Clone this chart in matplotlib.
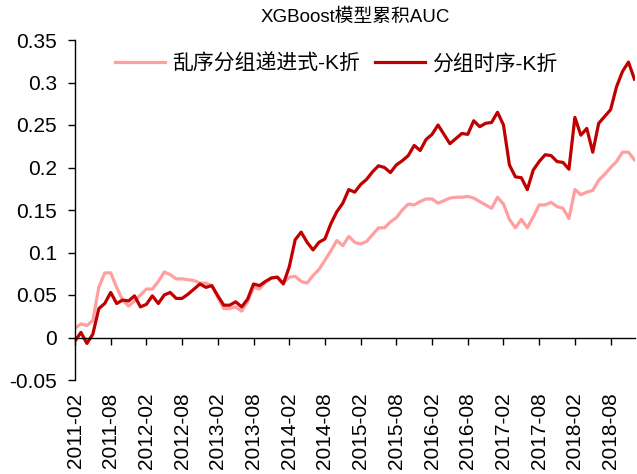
import matplotlib
matplotlib.use("Agg")
import matplotlib.pyplot as plt
import numpy as np
import pandas as pd

plt.rcParams["font.family"] = ["Liberation Sans", "Noto Sans CJK SC"]

# monthly, 2011-02 .. 2018-12
months = pd.period_range("2011-02", "2018-12", freq="M").strftime("%Y-%m").tolist()

series_names = ["乱序分组递进式-K折", "分组时序-K折"]

shuffled_kfold = [
    0.011, 0.016, 0.014, 0.020, 0.059, 0.076, 0.076, 0.059, 0.044, 0.037,
    0.043, 0.050, 0.057, 0.057, 0.066, 0.077, 0.074, 0.069, 0.069, 0.068,
    0.067, 0.064, 0.064, 0.061, 0.047, 0.034, 0.034, 0.036, 0.031, 0.042,
    0.059, 0.057, 0.065, 0.070, 0.071, 0.064, 0.071, 0.072, 0.066, 0.064,
    0.073, 0.080, 0.091, 0.102, 0.114, 0.108, 0.119, 0.112, 0.110, 0.113,
    0.121, 0.129, 0.129, 0.136, 0.141, 0.150, 0.157, 0.156, 0.160, 0.163,
    0.163, 0.158, 0.161, 0.164, 0.165, 0.165, 0.166, 0.164, 0.160, 0.156,
    0.152, 0.165, 0.157, 0.139, 0.129, 0.139, 0.129, 0.142, 0.156, 0.156,
    0.159, 0.154, 0.152, 0.140, 0.174, 0.168, 0.171, 0.173, 0.185, 0.192,
    0.200, 0.207, 0.218, 0.218, 0.209,
]

timeseries_kfold = [
    -0.004, 0.006, -0.007, 0.004, 0.034, 0.040, 0.053, 0.040, 0.044, 0.043,
    0.049, 0.036, 0.039, 0.049, 0.040, 0.050, 0.053, 0.046, 0.046, 0.051,
    0.057, 0.063, 0.059, 0.061, 0.049, 0.038, 0.038, 0.042, 0.036, 0.045,
    0.063, 0.061, 0.066, 0.070, 0.071, 0.063, 0.083, 0.115, 0.124, 0.112,
    0.103, 0.112, 0.116, 0.134, 0.148, 0.158, 0.174, 0.171, 0.180, 0.186,
    0.195, 0.202, 0.200, 0.194, 0.203, 0.208, 0.214, 0.226, 0.220, 0.233,
    0.239, 0.250, 0.239, 0.228, 0.234, 0.240, 0.239, 0.255, 0.248, 0.252,
    0.253, 0.265, 0.250, 0.203, 0.189, 0.188, 0.174, 0.197, 0.207, 0.215,
    0.214, 0.207, 0.206, 0.198, 0.259, 0.238, 0.246, 0.218, 0.252, 0.260,
    0.268, 0.295, 0.313, 0.324, 0.304,
]

y_ticks = [-0.05, 0, 0.05, 0.1, 0.15, 0.2, 0.25, 0.3, 0.35]
y_tick_labels = ["-0.05", "0", "0.05", "0.1", "0.15", "0.2", "0.25", "0.3", "0.35"]


def main():
    fig = plt.figure(figsize=(6.37, 4.74), dpi=100)
    ax = fig.add_axes([75 / 637, 1 - 380 / 474, 560 / 637, 340 / 474])

    x = np.arange(len(months))
    ax.plot(x, shuffled_kfold, color="#ff9f9f", lw=2.3, label=series_names[0],
            solid_joinstyle="round")
    ax.plot(x, timeseries_kfold, color="#c00000", lw=2.3, label=series_names[1],
            solid_joinstyle="round")

    ax.set_xlim(0, len(months) - 1 + 0.1)
    ax.set_ylim(-0.05, 0.35)
    ax.set_yticks(y_ticks, labels=y_tick_labels)
    ax.tick_params(axis="y", direction="out", length=5, width=1, pad=8,
                   labelsize=15)

    # category axis crosses at 0, labels sit at the bottom
    tick_pos = x[::6]
    ax.spines["bottom"].set_position(("data", 0))
    ax.set_xticks(tick_pos)
    ax.tick_params(axis="x", direction="out", length=5, width=1,
                   labelbottom=False)
    sec = ax.secondary_xaxis("bottom")
    sec.set_xticks(tick_pos, labels=[months[i] for i in tick_pos], rotation=90)
    sec.tick_params(length=0, pad=9, labelsize=15)
    sec.spines["bottom"].set_visible(False)

    for side in ("top", "right"):
        ax.spines[side].set_visible(False)
    for side in ("left", "bottom"):
        ax.spines[side].set_linewidth(1)

    ax.set_title("XGBoost模型累积AUC", fontsize=13.5, pad=13)
    ax.legend(loc="upper left", bbox_to_anchor=(0.071, 0.96), ncol=2,
              frameon=False, fontsize=15, handlelength=2.4,
              handletextpad=0.35, columnspacing=0.7,
              borderpad=0, borderaxespad=0)

    fig.savefig("out.png", dpi=100)


if __name__ == "__main__":
    main()
